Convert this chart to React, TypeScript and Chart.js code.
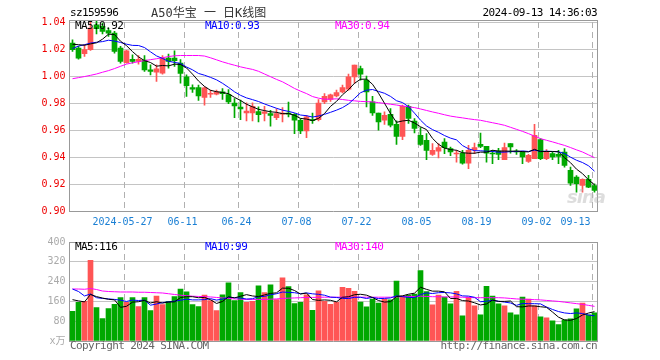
import React, { useEffect, useRef } from 'react';
import { Chart, registerables } from 'chart.js';

Chart.register(...registerables);

// ---------- data ----------
const dates = [
  '05-14','05-15','05-16','05-17','05-20','05-21','05-22','05-23','05-24','05-27',
  '05-28','05-29','05-30','05-31','06-03','06-04','06-05','06-06','06-07','06-11',
  '06-12','06-13','06-14','06-17','06-18','06-19','06-20','06-21','06-24','06-25',
  '06-26','06-27','06-28','07-01','07-02','07-03','07-04','07-05','07-08','07-09',
  '07-10','07-11','07-12','07-15','07-16','07-17','07-18','07-19','07-22','07-23',
  '07-24','07-25','07-26','07-29','07-30','07-31','08-01','08-02','08-05','08-06',
  '08-07','08-08','08-09','08-12','08-13','08-14','08-15','08-16','08-19','08-20',
  '08-21','08-22','08-23','08-26','08-27','08-28','08-29','08-30','09-02','09-03',
  '09-04','09-05','09-06','09-09','09-10','09-11','09-12','09-13'
];

const opens = [
  1.0244,1.0207,1.0165,1.0195,1.0380,1.0368,1.0336,1.0318,1.0207,1.0098,
  1.0123,1.0108,1.0118,1.0046,1.0029,1.0022,1.0133,1.0133,1.0096,0.9994,
  0.9915,0.9915,0.9841,0.9865,0.9865,0.9882,0.9863,0.9800,0.9769,0.9726,
  0.9726,0.9736,0.9722,0.9722,0.9692,0.9717,0.9726,0.9717,0.9672,0.9593,
  0.9675,0.9677,0.9808,0.9826,0.9853,0.9882,0.9902,0.9994,1.0056,0.9969,
  0.9808,0.9726,0.9672,0.9717,0.9642,0.9553,0.9776,0.9667,0.9561,0.9524,
  0.9420,0.9444,0.9511,0.9462,0.9422,0.9429,0.9355,0.9455,0.9494,0.9479,
  0.9428,0.9444,0.9380,0.9499,0.9440,0.9437,0.9368,0.9388,0.9529,0.9388,
  0.9425,0.9420,0.9437,0.9301,0.9251,0.9189,0.9234,0.9189
];
const highs = [
  1.0269,1.0220,1.0232,1.0405,1.0412,1.0393,1.0355,1.0331,1.0220,1.0190,
  1.0157,1.0152,1.0152,1.0083,1.0083,1.0152,1.0162,1.0187,1.0121,1.0009,
  0.9935,0.9933,0.9919,0.9895,0.9895,0.9907,0.9900,0.9833,0.9821,0.9801,
  0.9801,0.9771,0.9776,0.9746,0.9756,0.9766,0.9806,0.9722,0.9685,0.9709,
  0.9726,0.9826,0.9870,0.9867,0.9895,0.9932,1.0014,1.0081,1.0073,0.9999,
  0.9850,0.9726,0.9734,0.9759,0.9668,0.9784,0.9784,0.9685,0.9618,0.9573,
  0.9499,0.9499,0.9536,0.9474,0.9449,0.9449,0.9486,0.9504,0.9578,0.9479,
  0.9449,0.9464,0.9504,0.9499,0.9455,0.9442,0.9420,0.9643,0.9536,0.9455,
  0.9440,0.9449,0.9462,0.9325,0.9262,0.9239,0.9264,0.9202
];
const lows = [
  1.0182,1.0125,1.0145,1.0190,1.0311,1.0311,1.0294,1.0170,1.0096,1.0096,
  1.0096,1.0088,1.0034,1.0009,0.9960,1.0014,1.0058,1.0071,0.9947,0.9848,
  0.9878,0.9820,0.9784,0.9841,0.9860,0.9826,0.9796,0.9692,0.9677,0.9667,
  0.9667,0.9660,0.9667,0.9628,0.9677,0.9660,0.9697,0.9573,0.9573,0.9544,
  0.9648,0.9667,0.9796,0.9811,0.9845,0.9875,0.9895,0.9945,0.9969,0.9771,
  0.9709,0.9598,0.9642,0.9622,0.9494,0.9529,0.9648,0.9578,0.9486,0.9380,
  0.9412,0.9394,0.9425,0.9409,0.9362,0.9347,0.9313,0.9425,0.9469,0.9362,
  0.9350,0.9380,0.9380,0.9429,0.9420,0.9350,0.9360,0.9388,0.9380,0.9380,
  0.9380,0.9350,0.9325,0.9189,0.9140,0.9140,0.9172,0.9140
];
const closes = [
  1.0195,1.0133,1.0195,1.0355,1.0350,1.0331,1.0318,1.0182,1.0108,1.0187,
  1.0108,1.0123,1.0046,1.0034,1.0054,1.0133,1.0108,1.0113,1.0019,0.9928,
  0.9903,0.9853,0.9912,0.9872,0.9882,0.9870,0.9808,0.9778,0.9756,0.9741,
  0.9776,0.9714,0.9734,0.9709,0.9722,0.9726,0.9717,0.9672,0.9593,0.9697,
  0.9670,0.9800,0.9850,0.9860,0.9878,0.9915,0.9994,1.0081,1.0014,0.9882,
  0.9726,0.9660,0.9709,0.9635,0.9553,0.9776,0.9685,0.9611,0.9494,0.9449,
  0.9449,0.9469,0.9469,0.9437,0.9428,0.9355,0.9449,0.9469,0.9479,0.9429,
  0.9422,0.9420,0.9469,0.9474,0.9437,0.9400,0.9412,0.9561,0.9388,0.9442,
  0.9400,0.9405,0.9338,0.9206,0.9202,0.9234,0.9177,0.9152
];
const ma5 = [
  1.0235,1.0232,1.0228,1.0238,1.0246,1.0273,1.0310,1.0307,1.0258,1.0225,
  1.0181,1.0142,1.0114,1.0100,1.0073,1.0078,1.0075,1.0088,1.0085,1.0060,
  1.0014,0.9963,0.9923,0.9894,0.9884,0.9878,0.9869,0.9842,0.9819,0.9791,
  0.9772,0.9753,0.9744,0.9735,0.9731,0.9721,0.9722,0.9709,0.9686,0.9681,
  0.9670,0.9686,0.9722,0.9775,0.9812,0.9861,0.9899,0.9946,0.9976,0.9977,
  0.9939,0.9873,0.9798,0.9722,0.9657,0.9667,0.9672,0.9652,0.9624,0.9603,
  0.9538,0.9494,0.9466,0.9455,0.9450,0.9432,0.9428,0.9428,0.9436,0.9436,
  0.9450,0.9444,0.9444,0.9443,0.9444,0.9440,0.9438,0.9457,0.9440,0.9441,
  0.9441,0.9439,0.9395,0.9358,0.9310,0.9277,0.9231,0.9194
];
const ma10 = [
  1.0203,1.0222,1.0232,1.0244,1.0250,1.0255,1.0265,1.0259,1.0249,1.0236,
  1.0227,1.0226,1.0211,1.0179,1.0149,1.0130,1.0109,1.0101,1.0093,1.0067,
  1.0046,1.0019,1.0006,0.9990,0.9972,0.9946,0.9916,0.9883,0.9857,0.9838,
  0.9825,0.9811,0.9793,0.9777,0.9761,0.9747,0.9738,0.9727,0.9711,0.9706,
  0.9696,0.9704,0.9716,0.9731,0.9747,0.9766,0.9793,0.9834,0.9876,0.9895,
  0.9900,0.9886,0.9872,0.9849,0.9817,0.9803,0.9773,0.9725,0.9673,0.9630,
  0.9603,0.9583,0.9559,0.9540,0.9527,0.9485,0.9461,0.9447,0.9446,0.9443,
  0.9441,0.9436,0.9436,0.9440,0.9440,0.9445,0.9441,0.9451,0.9442,0.9443,
  0.9441,0.9439,0.9426,0.9399,0.9376,0.9359,0.9335,0.9295
];
const ma30 = [
  0.9980,0.9988,0.9996,1.0005,1.0015,1.0028,1.0040,1.0055,1.0072,1.0088,
  1.0098,1.0106,1.0114,1.0121,1.0128,1.0136,1.0144,1.0150,1.0152,1.0152,
  1.0152,1.0152,1.0148,1.0135,1.0120,1.0105,1.0092,1.0080,1.0068,1.0058,
  1.0049,1.0035,1.0015,0.9995,0.9975,0.9957,0.9933,0.9908,0.9888,0.9870,
  0.9848,0.9836,0.9828,0.9829,0.9831,0.9826,0.9820,0.9816,0.9812,0.9810,
  0.9808,0.9803,0.9797,0.9791,0.9785,0.9778,0.9772,0.9766,0.9756,0.9745,
  0.9734,0.9724,0.9713,0.9703,0.9696,0.9690,0.9683,0.9677,0.9672,0.9663,
  0.9654,0.9645,0.9635,0.9620,0.9605,0.9590,0.9573,0.9555,0.9536,0.9524,
  0.9512,0.9499,0.9486,0.9470,0.9453,0.9437,0.9416,0.9395
];

const volumes = [
  120,156,160,326,135,91,131,148,175,156,
  175,139,175,123,182,147,160,179,210,199,
  147,139,186,163,123,187,235,163,196,156,
  160,223,196,227,167,255,220,151,156,187,
  124,203,160,148,156,217,213,201,157,138,
  169,153,169,166,242,182,186,190,285,200,
  146,186,177,150,201,102,177,142,106,221,
  181,150,142,114,106,177,169,142,98,94,
  82,66,86,90,130,153,106,114
];
const volMa5 = [
  167,162,158,188,179.4,173.6,168.6,166.2,136,140.2,
  157,158.6,164,153.6,158.8,153.2,157.4,158.2,175.6,179,
  179,174.8,176.2,166.8,151.6,159.6,178.8,174.2,180.8,187.4,
  182,179.6,186.2,192.4,194.6,213.6,213,204,189.8,193.8,
  167.6,164.2,166,164.4,158.2,176.8,178.8,187,188.8,185.2,
  175.6,163.6,157.2,159,179.8,182.4,189,193.2,217,208.6,
  201.4,201.4,198.8,171.8,172,163.2,161.4,154.4,145.6,149.6,
  165.4,160,160,161.6,138.6,137.8,141.6,141.6,138.4,136,
  117,96.4,85.2,83.6,90.8,105,113,118.6
];
const volMa10 = [
  210,200,182,190,175,172,170,168,165,159.8,
  165.3,163.6,165.1,144.8,149.5,155.1,158,161.1,164.6,168.9,
  166.1,166.1,167.2,171.2,165.3,169.3,176.8,175.2,173.8,169.5,
  170.8,179.2,180.2,186.6,191,197.8,196.3,195.1,191.1,194.2,
  190.6,188.6,185,177.1,176,172.2,171.5,176.5,176.6,171.7,
  176.2,171.2,172.1,173.9,182.5,179,176.3,175.2,188,194.2,
  191.9,195.2,196,194.4,190.3,182.3,181.4,176.6,158.7,160.8,
  164.3,160.7,157.2,153.6,144.1,151.6,150.8,150.8,150,137.3,
  127.4,119,113.4,111,113.4,111,104.7,101.9
];
const volMa30 = [
  210,210,209,212,208,202,200,199,198,198,
  198,197,197,196,195,194,191,188,185,183,
  181,180,179,178,176,174,172,170,169,168,
  168,168,168,169,170,172,173,174,175,176,
  176,177,177,177,177,177,177,177,177,177,
  177,177,177,177,178,180,180,180,181,180,
  179,179,178,178,178,177,176,175,175,175,
  175,175,174,172,170,169,168,167,166,164,
  162,160,157,154,151,148,144,140
];

const priceTicks = [0.90, 0.92, 0.94, 0.96, 0.98, 1.00, 1.02, 1.04];
const volumeTicks = [0, 80, 160, 240, 320, 400];
const axisDates = ['05-27','06-11','06-24','07-08','07-22','08-05','08-19','09-02','09-13'];
const axisLabels = ['2024-05-27','06-11','06-24','07-08','07-22','08-05','08-19','09-02','09-13     '];

// ---------- style ----------
const UP = '#ff5555';
const DOWN = '#00a800';
const MONO = "'DejaVu Sans Mono', 'Noto Sans CJK SC', monospace";
const GRID_H = '#c4c4c4';
const GRID_V = '#b0b0b0';
const FRAME = '#999999';

const candleColors = closes.map((c, i) => (c >= opens[i] ? UP : DOWN));

// frame on top + vertical dashes built from the x scale
const framePlugin = {
  id: 'sinaFrame',
  beforeDatasetsDraw(chart: any) {
    const { ctx, chartArea: a, scales } = chart;
    const xs = scales.x;
    const step = xs.getPixelForValue(1) - xs.getPixelForValue(0);
    const top = Math.round(a.top);
    const bottom = Math.round(a.bottom);
    ctx.save();
    ctx.fillStyle = GRID_V;
    axisDates.forEach((d) => {
      const i = dates.indexOf(d);
      const x = Math.round(xs.getPixelForValue(i) - step / 2);
      for (let y = top + 2; y < bottom; y += 10) {
        ctx.fillRect(x, y, 1, Math.min(6, bottom - y));
      }
    });
    ctx.restore();
  },
  afterDatasetsDraw(chart: any) {
    const { ctx, chartArea: a } = chart;
    ctx.save();
    ctx.fillStyle = FRAME;
    const top = Math.round(a.top);
    ctx.fillRect(Math.floor(a.left), top, Math.round(a.right - a.left), 1);
    ctx.fillRect(Math.floor(a.right), top, 1, Math.round(a.bottom - a.top));
    ctx.restore();
  },
};

function xScale(showTicks: boolean, height: number) {
  return {
    type: 'category',
    offset: true,
    grid: { display: false, drawTicks: false },
    border: { display: true, color: FRAME, width: 1 },
    ticks: {
      display: showTicks,
      autoSkip: false,
      maxRotation: 0,
      minRotation: 0,
      padding: 5,
      labelOffset: -4,
      color: '#1a7fd4',
      font: { family: MONO, size: 10 },
      callback: (_v: any, i: number) => {
        const k = axisDates.indexOf(dates[i]);
        return k >= 0 ? axisLabels[k] : '';
      },
    },
    afterFit: (s: any) => { s.height = height; },
  };
}

function yGrid() {
  return {
    display: true,
    drawTicks: false,
    drawOnChartArea: true,
    lineWidth: 1,
    color: (c: any) => {
      const v = c.tick ? c.tick.value : null;
      return v === 0 || v === 0.9 || v === 400 ? 'rgba(0,0,0,0)' : GRID_H;
    },
  };
}

const lineDs = (label: string, data: number[], color: string) => ({
  type: 'line',
  label,
  data,
  borderColor: color,
  backgroundColor: color,
  borderWidth: 1,
  pointRadius: 0,
  tension: 0,
  fill: false,
  order: 0,
});

export default function App() {
  const priceRef = useRef<HTMLCanvasElement>(null);
  const volRef = useRef<HTMLCanvasElement>(null);

  useEffect(() => {
    const charts: Chart[] = [];
    if (priceRef.current) {
      charts.push(new Chart(priceRef.current, {
        type: 'bar',
        data: {
          labels: dates,
          datasets: [
            lineDs('MA5', ma5, '#000000'),
            lineDs('MA10', ma10, '#0000ff'),
            lineDs('MA30', ma30, '#ff00ff'),
            {
              type: 'bar', label: 'body',
              data: opens.map((o, i) => [o, closes[i]]),
              backgroundColor: candleColors,
              barThickness: 5, minBarLength: 1, grouped: false, order: 1,
            },
            {
              type: 'bar', label: 'wick',
              data: lows.map((l, i) => [l, highs[i]]),
              backgroundColor: candleColors,
              barThickness: 1, grouped: false, order: 2,
            },
          ] as any,
        },
        options: {
          responsive: false,
          maintainAspectRatio: false,
          devicePixelRatio: 1,
          animation: false,
          events: [],
          layout: { padding: { left: 0, right: 62.5, top: 20, bottom: 0 } },
          plugins: { legend: { display: false }, tooltip: { enabled: false } },
          scales: {
            x: xScale(true, 21) as any,
            y: {
              min: 0.90, max: 1.0415,
              afterBuildTicks: (s: any) => { s.ticks = priceTicks.map((v) => ({ value: v })); },
              afterFit: (s: any) => { s.width = 69.5; },
              grid: yGrid(),
              border: { display: true, color: FRAME, width: 1 },
              ticks: {
                color: '#ee0000', padding: 4,
                font: { family: MONO, size: 10 },
                callback: (v: any) => Number(v).toFixed(2),
              },
            },
          },
        },
        plugins: [framePlugin],
      } as any));
    }
    if (volRef.current) {
      charts.push(new Chart(volRef.current, {
        type: 'bar',
        data: {
          labels: dates,
          datasets: [
            lineDs('MA5', volMa5, '#000000'),
            lineDs('MA10', volMa10, '#0000ff'),
            lineDs('MA30', volMa30, '#ff00ff'),
            {
              type: 'bar', label: 'vol',
              data: volumes,
              backgroundColor: candleColors,
              barThickness: 5, grouped: false, order: 1,
            },
          ] as any,
        },
        options: {
          responsive: false,
          maintainAspectRatio: false,
          devicePixelRatio: 1,
          animation: false,
          events: [],
          layout: { padding: { left: 0, right: 62.5, top: 8, bottom: 19 } },
          plugins: { legend: { display: false }, tooltip: { enabled: false } },
          scales: {
            x: xScale(false, 0) as any,
            y: {
              min: 0, max: 400,
              afterBuildTicks: (s: any) => { s.ticks = volumeTicks.map((v) => ({ value: v })); },
              afterFit: (s: any) => { s.width = 69.5; },
              grid: yGrid(),
              border: { display: true, color: FRAME, width: 1 },
              ticks: {
                color: '#aaaaaa', padding: 4,
                font: { family: MONO, size: 10 },
                callback: (v: any) => (Number(v) === 0 ? 'x万' : String(v)),
              },
            },
          },
        },
        plugins: [framePlugin],
      } as any));
    }
    return () => charts.forEach((c) => c.destroy());
  }, []);

  const txt = (extra: React.CSSProperties): React.CSSProperties => ({
    position: 'absolute',
    fontFamily: MONO,
    fontSize: 11,
    letterSpacing: '-0.6px',
    lineHeight: '12px',
    whiteSpace: 'pre',
    ...extra,
  });

  return (
    <div style={{ position: 'fixed', left: 0, top: 0, width: 660, height: 360, background: '#fff', overflow: 'hidden' }}>
      <canvas ref={priceRef} width={660} height={232} style={{ position: 'absolute', left: 0, top: 0, width: 660, height: 232 }} />
      <canvas ref={volRef} width={660} height={128} style={{ position: 'absolute', left: 0, top: 232, width: 660, height: 128 }} />

      <div style={txt({ left: 70, top: 7, color: '#000' })}>sz159596</div>
      <div style={txt({ left: 151, top: 7, color: '#333', fontSize: 12, letterSpacing: '0px' })}>A50华宝 一 日K线图</div>
      <div style={txt({ right: 63, top: 7, color: '#000', textAlign: 'right' })}>2024-09-13 14:36:03</div>

      <div style={txt({ left: 75, top: 20, color: '#000' })}>MA5:0.92</div>
      <div style={txt({ left: 205, top: 20, color: '#0000ff' })}>MA10:0.93</div>
      <div style={txt({ left: 335, top: 20, color: '#ff00ff' })}>MA30:0.94</div>

      <div style={txt({ left: 75, top: 241, color: '#000' })}>MA5:116</div>
      <div style={txt({ left: 205, top: 241, color: '#0000ff' })}>MA10:99</div>
      <div style={txt({ left: 335, top: 241, color: '#ff00ff' })}>MA30:140</div>

      <div style={txt({ left: 567, top: 187, color: 'rgba(180,180,180,0.45)', fontFamily: 'Verdana, DejaVu Sans, sans-serif', fontSize: 18, fontWeight: 'bold', fontStyle: 'italic', letterSpacing: '-1px', lineHeight: '20px' })}>sina</div>

      <div style={txt({ left: 70, top: 340, color: '#666' })}>Copyright 2024 SINA.COM</div>
      <div style={txt({ right: 63, top: 340, color: '#666', textAlign: 'right' })}>http://finance.sina.com.cn</div>
    </div>
  );
}
